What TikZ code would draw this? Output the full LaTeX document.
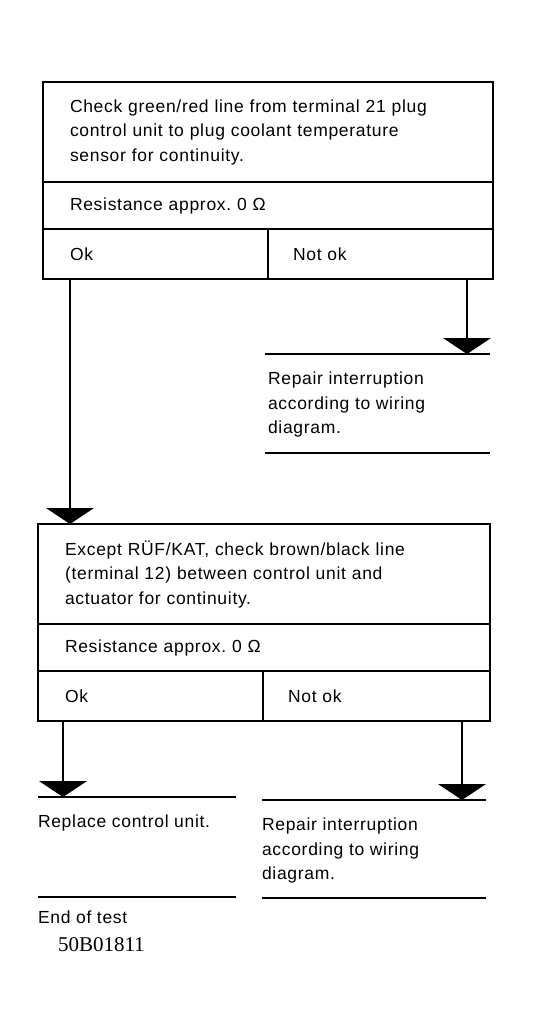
\documentclass[tikz,border=0pt]{standalone}
\usepackage{fontspec}
\setmainfont{Liberation Sans}[LetterSpace=4]
\newfontfamily\codefont{Liberation Serif}
\usetikzlibrary{positioning,calc
  ,arrows.meta}
\tikzset{
flowchartpic/.style={
  x=1pt,y=1pt
    ,line width=1.4pt
    ,inner sep=0pt
    ,outer sep=0pt
    ,font=\fontsize{17.5}{24.5}\selectfont
}
,bounder/.style={draw=black,align=left,inner xsep=27pt,inner ysep=0pt}
,question/.style={bounder,minimum height=100pt}
,answer/.style={bounder,minimum height=47pt}
,okbox/.style={bounder,minimum height=50pt}
,nokbox/.style={bounder,minimum height=50pt,inner xsep=25pt}
,result/.style={align=left}
,rule/.style={line width=1.4pt}
,flow/.style={-{Triangle[width=48pt,length=16pt]},line width=1.4pt}
,figid/.style={font=\codefont\fontsize{21}{24}\selectfont}
}
\begin{document}
\begin{tikzpicture}[flowchartpic]
  \useasboundingbox (0,0) rectangle (533,-1028);
  % green/red line
  \node[question,text width=396pt,anchor=north west] (chkgreen) at (43,-82)
    {Check green/red line from terminal 21 plug\\control unit to plug coolant temperature\\sensor for continuity.};
  \node[answer,text width=396pt,below=0pt of chkgreen] (resgreen) {Resistance approx.\ 0 Ω};
  \node[okbox,text width=171pt,below right=0pt of resgreen.south west] (okgreen) {Ok};
  \node[nokbox,text width=175pt,right=0pt of okgreen] (nokgreen) {Not ok};
  \coordinate (repgreentop) at (265,-354);
  \node[result,below right=18pt and 3pt of repgreentop] (repgreen)
    {Repair interruption\\according to wiring\\diagram.};
  \draw[rule] (repgreentop) -- ++(225,0);
  \draw[rule] ($(repgreentop)+(0,-99)$) -- ++(225,0);
  \coordinate (nokgreenout) at ($(nokgreen.south east)+(-26,0)$);
  \draw[flow] (nokgreenout) -- (nokgreenout |- repgreentop);
  % brown/black line
  \node[question,text width=398pt,anchor=north west] (chkbrown) at (38,-524)
    {Except RÜF/KAT, check brown/black line\\(terminal 12) between control unit and\\actuator for continuity.};
  \node[answer,text width=398pt,below=0pt of chkbrown] (resbrown) {Resistance approx.\ 0 Ω};
  \node[okbox,text width=171pt,below right=0pt of resbrown.south west] (okbrown) {Ok};
  \node[nokbox,text width=177pt,right=0pt of okbrown] (nokbrown) {Not ok};
  \coordinate (okgreenout) at ($(okgreen.south west)+(27,0)$);
  \draw[flow] (okgreenout) -- (okgreenout |- chkbrown.north);
  % results
  \coordinate (replbrowntop) at (38,-797);
  \coordinate (replbrownbot) at ($(replbrowntop)+(0,-100)$);
  \node[result,below right=18pt and 0pt of replbrowntop] (replbrown) {Replace control unit.};
  \draw[rule] (replbrowntop) -- ++(198,0);
  \draw[rule] (replbrownbot) -- ++(198,0);
  \coordinate (repbrowntop) at (262,-800);
  \node[result,below right=18pt and 0pt of repbrowntop] (repbrown)
    {Repair interruption\\according to wiring\\diagram.};
  \draw[rule] (repbrowntop) -- ++(224,0);
  \draw[rule] ($(repbrowntop)+(0,-98)$) -- ++(224,0);
  \coordinate (okbrownout) at ($(okbrown.south west)+(25,0)$);
  \draw[flow] (okbrownout) -- (okbrownout |- replbrowntop);
  \coordinate (nokbrownout) at ($(nokbrown.south east)+(-28,0)$);
  \draw[flow] (nokbrownout) -- (nokbrownout |- repbrowntop);
  \node[result,below right=14pt and 0pt of replbrownbot] (endtest) {End of test};
  \node[result,figid,anchor=north west] (figno) at (58,-938) {50B01811};
\end{tikzpicture}
\end{document}
